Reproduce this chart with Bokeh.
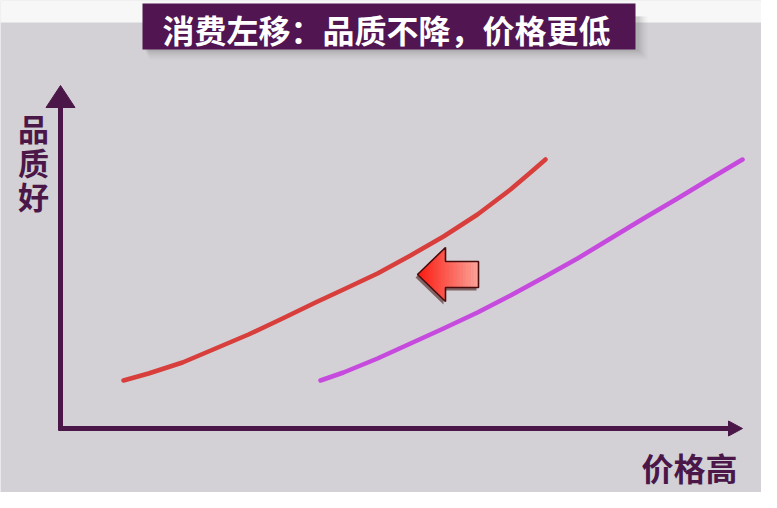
import numpy as np
from bokeh.plotting import figure
from bokeh.models import Range1d
from bokeh.embed import file_html
from bokeh.resources import INLINE
from bokeh.core.properties import value

# ---------------- data ----------------
title_text = "消费左移：品质不降，价格更低"
y_label = ["品", "质", "好"]
x_label = "价格高"

# original consumption curve (red) : price vs quality
red_price = [63, 88, 122, 155, 188, 222, 255, 283, 317, 350, 383, 417, 450, 470, 485]
red_quality = [48, 55, 66, 80, 94, 110, 126, 139, 155, 173, 192, 214, 239, 256, 269]
# shifted curve (magenta)
magenta_price = [260, 283, 317, 350, 383, 417, 450, 483, 517, 550, 583, 617, 650, 682]
magenta_quality = [48, 56, 70, 85, 100, 116, 133, 151, 170, 190, 210, 230, 250, 269]

# ---------------- styles ----------------
BG = "#d3d1d5"
PURPLE = "#4b1749"
BOX = "#511552"
RED = "#d83f3c"
MAGENTA = "#c64add"
FONT = "Noto Sans CJK SC"

W, H = 761, 492
p = figure(width=W, height=H, output_backend="svg", toolbar_location=None,
           x_axis_type=None, y_axis_type=None,
           x_range=Range1d(-60, W - 60), y_range=Range1d(428 - H, 428),
           min_border=0, outline_line_color=None,
           background_fill_color=BG, border_fill_color=BG)
p.grid.visible = False

# top white band
p.quad(left=-70, right=720, bottom=406, top=430, fill_color="#f7f7f7", line_color=None)

# title box shadow + box
for i, a in enumerate([0.10, 0.08, 0.06, 0.04, 0.03]):
    d = i + 1
    p.quad(left=84 + d, right=577 + 2 * d, bottom=379 - 2 * d, top=412,
           fill_color="#555555", fill_alpha=a, line_color=None)
p.quad(left=82, right=575, bottom=379, top=425, fill_color=BOX, line_color=None)
p.text(x=[326], y=[400], text=[title_text], text_color="white",
       text_font=value(FONT), text_font_style="bold", text_font_size="32px",
       text_align="center", text_baseline="middle")

# axes
p.line(x=[0, 0], y=[-2, 323], line_color=PURPLE, line_width=5)
p.patch(x=[-14.5, 14.5, 0], y=[321, 321, 343], fill_color=PURPLE, line_color=PURPLE)
p.line(x=[-2, 669], y=[0, 0], line_color=PURPLE, line_width=5)
p.patch(x=[668, 668, 682], y=[7.5, -7.5, 0], fill_color=PURPLE, line_color=PURPLE)

# axis labels
p.text(x=[-27, -27, -27], y=[301, 267, 233], text=y_label, text_color=PURPLE,
       text_font=value(FONT), text_font_style="bold", text_font_size="31px",
       text_align="center", text_baseline="middle")
p.text(x=[629], y=[-38], text=[x_label], text_color=PURPLE,
       text_font=value(FONT), text_font_style="bold", text_font_size="32px",
       text_align="center", text_baseline="middle")

# curves
p.line(red_price, red_quality, line_color=RED, line_width=4.5, line_cap="round", line_join="round")
p.line(magenta_price, magenta_quality, line_color=MAGENTA, line_width=4.5, line_cap="round", line_join="round")

# left-pointing arrow with gradient
tip_x, cy = 357, 154
head_x, end_x = 385, 418
head_h, shaft_h = 27, 13
ax = [tip_x, head_x, head_x, end_x, end_x, head_x, head_x]
ay = [cy, cy + head_h, cy + shaft_h, cy + shaft_h, cy - shaft_h, cy - shaft_h, cy - head_h]
p.patch(x=[v - 2 for v in ax], y=[v - 3 for v in ay], fill_color="#3a0a0a", fill_alpha=0.55, line_color=None)

def half(xv):
    if xv < head_x:
        return head_h * (xv - tip_x) / (head_x - tip_x)
    return shaft_h

edges = np.linspace(tip_x, end_x, 40)
edges = np.unique(np.concatenate([edges, [head_x]]))
c0 = np.array([255, 25, 15]); c1 = np.array([255, 165, 155])
for x0, x1 in zip(edges[:-1], edges[1:]):
    t = ((x0 + x1) / 2 - tip_x) / (end_x - tip_x)
    c = (c0 + (c1 - c0) * t).astype(int)
    col = "#%02x%02x%02x" % tuple(c)
    if x1 <= head_x:
        h0 = head_h * (x0 - tip_x) / (head_x - tip_x)
        h1 = head_h * (x1 - tip_x) / (head_x - tip_x)
    else:
        h0 = h1 = shaft_h
    p.patch(x=[x0, x1, x1, x0], y=[cy - h0, cy - h1, cy + h1, cy + h0],
            fill_color=col, line_color=col, line_width=0.6)
p.patch(x=ax, y=ay, fill_color=None, line_color="#4a0c0c", line_width=1.6)

open("out.html", "w").write(file_html(p, INLINE))
